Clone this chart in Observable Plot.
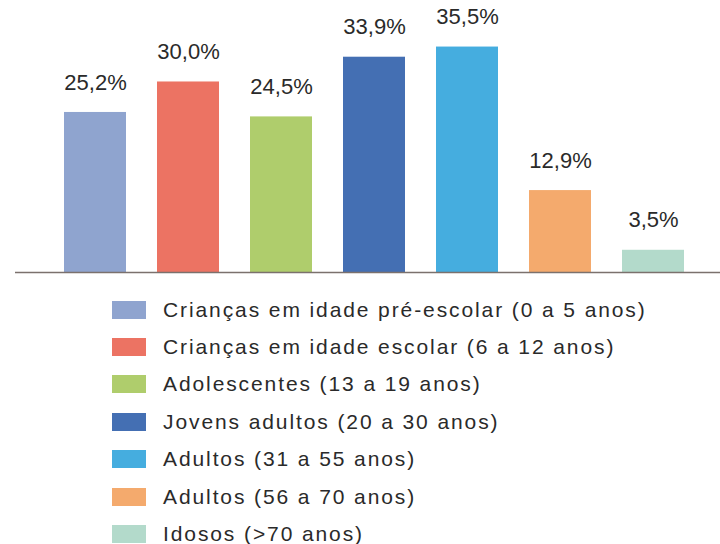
<!DOCTYPE html>
<html>
<head>
<meta charset="utf-8">
<script src="https://cdn.jsdelivr.net/npm/d3@7"></script>
<script src="https://cdn.jsdelivr.net/npm/@observablehq/plot@0.6"></script>
<style>
  html, body { margin: 0; padding: 0; background: #fff; }
  body { width: 720px; height: 544px; overflow: hidden; font-family: "Liberation Sans", Arial, sans-serif; }
  #legend { position: absolute; left: 112px; top: 291px; }
  .row { display: flex; align-items: center; height: 37.4px; }
  .sw { width: 34px; height: 18px; margin-right: 17px; flex: none; }
  .lab { font-size: 21px; line-height: 22px; color: #2a2a2a; letter-spacing: 1.9px; white-space: pre; }
</style>
</head>
<body>
<div id="chart"></div>
<div id="legend"></div>
<script>
const categories = [
  "Crianças em idade pré-escolar (0 a 5 anos)",
  "Crianças em idade escolar (6 a 12 anos)",
  "Adolescentes (13 a 19 anos)",
  "Jovens adultos (20 a 30 anos)",
  "Adultos (31 a 55 anos)",
  "Adultos (56 a 70 anos)",
  "Idosos (>70 anos)"
];
const values = [25.2, 30.0, 24.5, 33.9, 35.5, 12.9, 3.5];
const labels = ["25,2%", "30,0%", "24,5%", "33,9%", "35,5%", "12,9%", "3,5%"];
const colors = ["#8fa4cf", "#ec7363", "#afcd6c", "#446fb3", "#45addf", "#f4aa6d", "#b3dacb"];

const data = categories.map((c, i) => ({cat: c, value: values[i], label: labels[i]}));

const chart = Plot.plot({
  width: 720,
  height: 282,
  marginLeft: 15,
  marginRight: 0,
  marginTop: 0,
  marginBottom: 10,
  x: {domain: categories, paddingInner: 0.337, paddingOuter: 0.4385, align: 0.573, axis: null},
  y: {domain: [0, 42.83], axis: null},
  color: {domain: categories, range: colors},
  style: {fontFamily: "'Liberation Sans', Arial, sans-serif", background: "#fff"},
  marks: [
    Plot.barY(data, {x: "cat", y: "value", fill: "cat"}),
    Plot.ruleY([0], {stroke: "#7b716d", strokeWidth: 1.4}),
    Plot.text(data, {x: "cat", y: "value", text: "label", dy: -30, fontSize: 22, fill: "#2a2a2a", letterSpacing: 0.8})
  ]
});
document.getElementById("chart").appendChild(chart);

const legend = document.getElementById("legend");
categories.forEach((c, i) => {
  const row = document.createElement("div");
  row.className = "row";
  const sw = document.createElement("div");
  sw.className = "sw";
  sw.style.background = colors[i];
  const lab = document.createElement("span");
  lab.className = "lab";
  lab.textContent = c;
  row.appendChild(sw);
  row.appendChild(lab);
  legend.appendChild(row);
});
</script>
</body>
</html>
